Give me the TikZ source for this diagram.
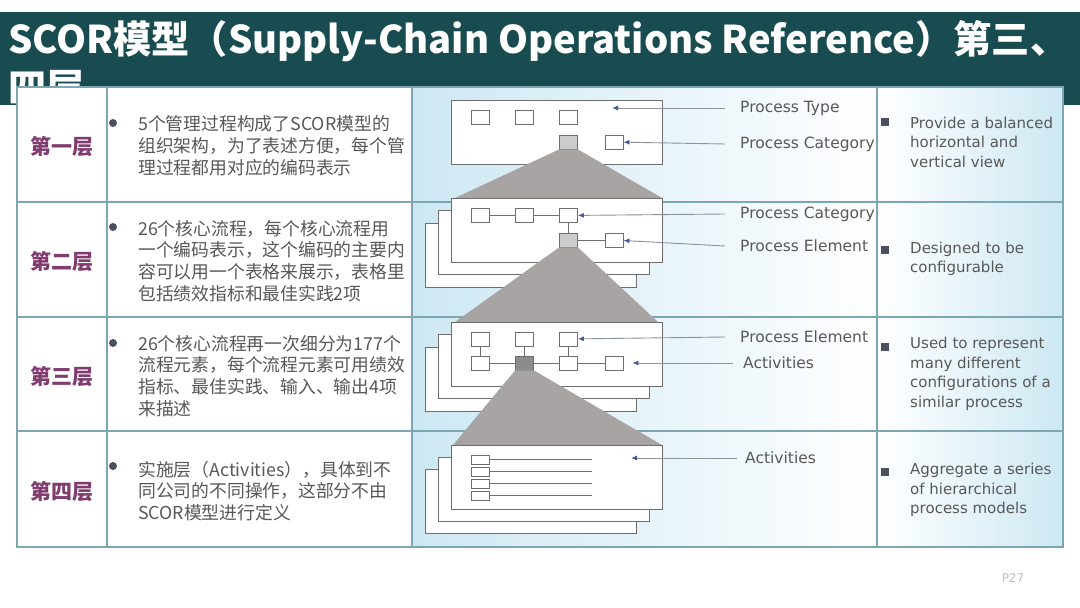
\documentclass[tikz,border=0pt]{standalone}
\usepackage{fontspec}
\setmainfont{DejaVu Sans}
\newfontfamily\cjk{Noto Sans CJK SC}
\usetikzlibrary{arrows.meta}

\definecolor{barteal}{RGB}{24,76,80}
\definecolor{tabline}{RGB}{125,165,178}
\definecolor{bgblue}{RGB}{205,232,243}
\definecolor{txtgray}{RGB}{88,88,88}
\definecolor{lvlpurple}{RGB}{128,60,110}
\definecolor{boxgray}{RGB}{110,110,110}
\definecolor{trapgray}{RGB}{168,164,164}
\definecolor{arrgray}{RGB}{140,145,155}
\definecolor{arrblue}{RGB}{70,90,150}
\definecolor{bulletc}{RGB}{75,80,95}

\begin{document}
\begin{tikzpicture}[x=1pt,y=-1pt,
    page/.style={draw=boxgray,fill=white,line width=0.9pt,minimum width=211pt,minimum height=64pt,inner sep=0pt},
    elem/.style={draw=boxgray,fill=white,line width=0.8pt,minimum width=18pt,minimum height=14pt,inner sep=0pt},
    act/.style={elem,minimum height=9pt},
    link/.style={draw=boxgray,line width=0.8pt},
    trap/.style={fill=trapgray},
    arr/.style={draw=arrgray,line width=0.9pt,-{Latex[length=6pt,width=5pt,color=arrblue]}},
    lbl/.style={anchor=west,inner sep=0pt,text=txtgray,font=\fontsize{15.5}{18}\selectfont},
    lvl/.style={inner sep=0pt,text=lvlpurple,font=\cjk\bfseries\fontsize{21}{24}\selectfont},
    ctxt/.style={anchor=west,align=left,inner sep=0pt,text=txtgray,font=\cjk\fontsize{17.8}{21.8}\selectfont},
    rtxt/.style={anchor=west,align=left,inner sep=0pt,text=txtgray,font=\fontsize{15}{19.5}\selectfont},
    ttl/.style={anchor=base west,inner sep=0pt,text=white,font=\cjk\bfseries\fontsize{38.2}{46}\selectfont},
    dot/.style={circle,fill=bulletc,minimum size=8pt,inner sep=0pt},
    sq/.style={fill=bulletc,minimum size=8pt,inner sep=0pt}]
    \useasboundingbox (0,0) rectangle (1080,608);

    % title bar
    \fill[barteal] (0,12) rectangle (1080,105);
    \node[ttl] (title1) at (8,53) {SCOR模型（Supply-Chain Operations Reference）第三、};
    \node[ttl] (title2) at (8,101) {四层};

    % table
    \fill[white] (17,87) rectangle (412,547);
    \shade[left color=bgblue,right color=white] (412,87) rectangle (877,547);
    \shade[left color=white,right color=bgblue] (877,87) rectangle (1063,547);
    \draw[tabline,line width=1.2pt] (17,87) rectangle (1063,547);
    \draw[tabline,line width=1.2pt] (107,87) -- (107,547) (412,87) -- (412,547) (877,87) -- (877,547);
    \draw[tabline,line width=1.2pt] (17,202) -- (1063,202) (17,317) -- (1063,317) (17,431) -- (1063,431);

    \node[lvl] (L1) at (62,147) {第一层};
    \node[lvl] (L2) at (62,262) {第二层};
    \node[lvl] (L3) at (62,377) {第三层};
    \node[lvl] (L4) at (62,492) {第四层};

    \node[dot] (d1) at (113,123) {};
    \node[dot] (d2) at (113,227) {};
    \node[dot] (d3) at (113,343) {};
    \node[dot] (d4) at (113,466) {};
    \node[ctxt] (c1) at (138,146) {5个管理过程构成了SCOR模型的\\组织架构，为了表述方便，每个管\\理过程都用对应的编码表示};
    \node[ctxt] (c2) at (138,261) {26个核心流程，每个核心流程用\\一个编码表示，这个编码的主要内\\容可以用一个表格来展示，表格里\\包括绩效指标和最佳实践2项};
    \node[ctxt] (c3) at (138,376) {26个核心流程再一次细分为177个\\流程元素，每个流程元素可用绩效\\指标、最佳实践、输入、输出4项\\来描述};
    \node[ctxt] (c4) at (138,491) {实施层（Activities），具体到不\\同公司的不同操作，这部分不由\\SCOR模型进行定义};

    \node[sq] (s1) at (885,122) {};
    \node[sq] (s2) at (885,250) {};
    \node[sq] (s3) at (885,347) {};
    \node[sq] (s4) at (885,472) {};
    \node[rtxt] (r1) at (910,142) {Provide a balanced\\horizontal and\\vertical view};
    \node[rtxt] (r2) at (910,259) {Designed to be\\configurable};
    \node[rtxt] (r3) at (910,374) {Used to represent\\many different\\configurations of a\\similar process};
    \node[rtxt] (r4) at (910,490) {Aggregate a series\\of hierarchical\\process models};

    % level 1
    \node[page] (p1) at (556.5,132) {};
    \node[elem] (e1a) at (480,117) {};
    \node[elem] (e1b) at (524.5,117) {};
    \node[elem] (e1c) at (568.5,117) {};
    \node[elem,fill=black!20] (g1) at (568.5,142) {};
    \node[elem] (e1e) at (614,142) {};
    \fill[trap] (g1.south west) -- (g1.south east) -- (662,198) -- (455,198) -- cycle;

    % level 2
    \node[page] (p2c) at (531,255) {};
    \node[page] (p2b) at (543.5,242.5) {};
    \node[page] (p2) at (556.5,230) {};
    \node[elem] (e2a) at (480,215.5) {};
    \node[elem] (e2b) at (524.5,215.5) {};
    \node[elem] (e2c) at (568.5,215.5) {};
    \node[elem,fill=black!20] (g2) at (568.5,240) {};
    \node[elem] (e2e) at (614,240) {};
    \path[link] (e2a) edge (e2b) (e2b) edge (e2c) (e2c) edge (g2) (g2) edge (e2e);
    \fill[trap] (g2.south west) -- (g2.south east) -- (658,322) -- (455,322) -- cycle;

    % level 3
    \node[page] (p3c) at (531,379) {};
    \node[page] (p3b) at (543.5,366) {};
    \node[page] (p3) at (556.5,354) {};
    \node[elem] (e3a) at (480,339) {};
    \node[elem] (e3b) at (524.5,339) {};
    \node[elem] (e3c) at (568.5,339) {};
    \node[elem] (e3d) at (480,363) {};
    \node[elem,fill=black!45] (g3) at (524.5,363) {};
    \node[elem] (e3f) at (568.5,363) {};
    \node[elem] (e3h) at (614,363) {};
    \path[link] (e3a) edge (e3d) (e3b) edge (g3) (e3c) edge (e3f)
                (e3d) edge (g3) (g3) edge (e3f) (e3f) edge (e3h);
    \fill[trap] (g3.south west) -- (g3.south east) -- (662,445) -- (453,445) -- cycle;

    % level 4
    \node[page] (p4c) at (531,501.5) {};
    \node[page] (p4b) at (543.5,489.5) {};
    \node[page] (p4) at (556.5,477) {};
    \node[act] (a1) at (480,459.5) {};
    \node[act] (a2) at (480,471.5) {};
    \node[act] (a3) at (480,483.5) {};
    \node[act] (a4) at (480,495.5) {};
    \draw[link] (a1.east) -- ++(103,0) (a2.east) -- ++(103,0) (a3.east) -- ++(103,0) (a4.east) -- ++(103,0);

    % labels
    \coordinate (tip1) at (612,108);
    \coordinate (tip7) at (631,458);
    \node[lbl] (lt1) at (740,108) {Process Type};
    \node[lbl] (lt2) at (740,144) {Process Category};
    \node[lbl] (lt3) at (740,214) {Process Category};
    \node[lbl] (lt4) at (740,246) {Process Element};
    \node[lbl] (lt5) at (740,337) {Process Element};
    \node[lbl] (lt6) at (743,363) {Activities};
    \node[lbl] (lt7) at (745,458) {Activities};

    \draw[arr] ([xshift=-15pt]lt1.west) -- (tip1);
    \draw[arr] ([xshift=-15pt]lt2.west) -- (e1e);
    \draw[arr] ([xshift=-15pt]lt3.west) -- (e2c);
    \draw[arr] ([xshift=-15pt]lt4.west) -- (e2e);
    \draw[arr] ([xshift=-15pt]lt5.west) -- (e3c);
    \draw[arr,shorten >=9pt] ([xshift=-10pt]lt6.west) -- (e3h);
    \draw[arr] ([xshift=-8pt]lt7.west) -- (tip7);

    \node[text={rgb,255:red,190;green,190;blue,190},font=\fontsize{12}{14}\selectfont] (pg) at (1013,578) {P27};
\end{tikzpicture}
\end{document}
